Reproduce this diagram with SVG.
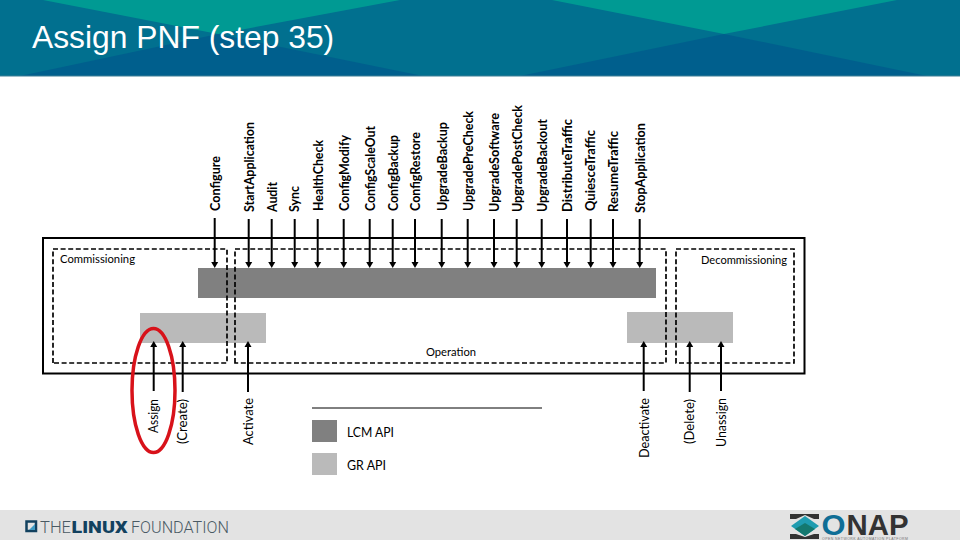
<svg xmlns="http://www.w3.org/2000/svg" width="960" height="540" viewBox="0 0 960 540">
<style>
text{font-family:Lato,"Open Sans","DejaVu Sans",sans-serif;fill:#000}
.v{font-size:13px;font-weight:700}
.n{font-weight:400}
.l{font-size:11.500px}
.t{font-family:"Liberation Sans",Arial,sans-serif;font-size:31.800px;fill:#fff}
.c{fill:none;stroke:#000;stroke-width:2}
.d{fill:none;stroke:#000;stroke-width:1.700;stroke-dasharray:5 2.600}
.lf{font-family:Roboto,"Liberation Sans",sans-serif;font-size:17px;font-weight:300;fill:#4a5a64}
.of{font-family:"Liberation Sans",Arial,sans-serif;font-size:29px;font-weight:700}
</style>
<defs>
<marker id="a" markerUnits="userSpaceOnUse" markerWidth="7" markerHeight="8" refX="0" refY="4" orient="auto"><path d="M0 0.500L6 4L0 7.500Z" fill="#000"/></marker>
</defs>
<rect width="960" height="540" fill="#fff"/>
<g id="header">
<rect width="960" height="76" fill="#01708f"/>
<path d="M43 0L218 34L400 0Z" fill="#009a93"/>
<path d="M552 0L724 34L897 0Z" fill="#009a93"/>
<path d="M20 76L218 34L423 76Z" fill="#005f8d"/>
<path d="M520 76L724 34L927 76Z" fill="#005f8d"/>
<rect y="75.500" width="960" height="1" fill="#3d7f95"/>
<text class="t" x="32" y="48">Assign PNF (step 35)</text>
</g>
<g id="footer">
<rect y="510" width="960" height="30" fill="#e3e3e3"/>
<g id="linux-foundation-logo">
<rect x="26.500" y="521.500" width="9.500" height="9.500" fill="none" stroke="#12415f" stroke-width="2.500"/>
<path d="M29 530h6v-6z" fill="#3d9ac4"/>
<text class="lf" x="40" y="532.500" textLength="31" lengthAdjust="spacingAndGlyphs">THE</text>
<text class="lf" x="71.500" y="532.500" textLength="56" lengthAdjust="spacingAndGlyphs" style="font-weight:900;fill:#12415f">LINUX</text>
<text class="lf" x="131" y="532.500" textLength="98" lengthAdjust="spacingAndGlyphs">FOUNDATION</text>
</g>
<g id="onap-logo">
<path d="M790 514h29v5l-5 0-9-4-9 4-6 0z" fill="#333"/>
<path d="M790 539h29v-5l-5 0-9 3-9-3-6 0z" fill="#333"/>
<path d="M791 526l14-10 14 10-14 10z" fill="#1f9cb0"/>
<path d="M795 529l10-6 10 6-10 7z" fill="#14786f"/>
<text class="of" x="821.500" y="535" style="fill:#0f6e96" textLength="24" lengthAdjust="spacingAndGlyphs">O</text>
<text class="of" x="846.500" y="535" style="fill:#333" textLength="62" lengthAdjust="spacingAndGlyphs">NAP</text>
<text x="822" y="539.500" style="font-family:'Liberation Sans',Arial,sans-serif;font-size:3.500px;fill:#777" textLength="86">OPEN NETWORK AUTOMATION PLATFORM</text>
</g>
</g>
<g id="bars">
<rect id="lcm-bar" x="198" y="268" width="458" height="30" fill="#808080"/>
<rect id="gr-bar-left" x="140" y="313" width="126" height="30" fill="#bababa"/>
<rect id="gr-bar-right" x="627" y="312" width="106" height="31" fill="#bababa"/>
</g>
<g id="frames">
<rect id="lifecycle" x="43" y="238" width="761.500" height="135.500" fill="none" stroke="#000" stroke-width="2"/>
<path id="commissioning" class="d" d="M53 363V249H227V363Z"/>
<path id="operation" class="d" d="M235 363V249H666V363Z"/>
<path id="decommissioning" class="d" d="M676 363V249H794V363Z"/>
</g>
<g id="connectors">
<path class="c" marker-end="url(#a)" d="M214.700 218V262"/>
<path class="c" marker-end="url(#a)" d="M248.700 219V262"/>
<path class="c" marker-end="url(#a)" d="M271.700 219V262"/>
<path class="c" marker-end="url(#a)" d="M294.700 219V262"/>
<path class="c" marker-end="url(#a)" d="M317.700 219V262"/>
<path class="c" marker-end="url(#a)" d="M343.700 219V262"/>
<path class="c" marker-end="url(#a)" d="M369.700 219V262"/>
<path class="c" marker-end="url(#a)" d="M392.700 219V262"/>
<path class="c" marker-end="url(#a)" d="M415 219V262"/>
<path class="c" marker-end="url(#a)" d="M441.700 219V262"/>
<path class="c" marker-end="url(#a)" d="M467.700 219V262"/>
<path class="c" marker-end="url(#a)" d="M494 219V262"/>
<path class="c" marker-end="url(#a)" d="M516.700 219V262"/>
<path class="c" marker-end="url(#a)" d="M541.700 219V262"/>
<path class="c" marker-end="url(#a)" d="M567 219V262"/>
<path class="c" marker-end="url(#a)" d="M590.700 219V262"/>
<path class="c" marker-end="url(#a)" d="M613 219V262"/>
<path class="c" marker-end="url(#a)" d="M639.700 219V262"/>
<path class="c" marker-end="url(#a)" d="M153.700 391V347"/>
<path class="c" marker-end="url(#a)" d="M182.700 392V347"/>
<path class="c" marker-end="url(#a)" d="M248 392V347"/>
<path class="c" marker-end="url(#a)" d="M643.700 391V347"/>
<path class="c" marker-end="url(#a)" d="M689.700 392V347"/>
<path class="c" marker-end="url(#a)" d="M721 391V347"/>
</g>
<g id="top-labels">
<text class="v" transform="translate(219.500,211) rotate(-90)" textLength="55" lengthAdjust="spacingAndGlyphs">Configure</text>
<text class="v" transform="translate(253.500,212) rotate(-90)" textLength="90" lengthAdjust="spacingAndGlyphs">StartApplication</text>
<text class="v" transform="translate(276.500,212) rotate(-90)" textLength="30" lengthAdjust="spacingAndGlyphs">Audit</text>
<text class="v" transform="translate(298.500,212) rotate(-90)" textLength="26" lengthAdjust="spacingAndGlyphs">Sync</text>
<text class="v" transform="translate(322.500,211) rotate(-90)" textLength="71" lengthAdjust="spacingAndGlyphs">HealthCheck</text>
<text class="v" transform="translate(348.500,211) rotate(-90)" textLength="76" lengthAdjust="spacingAndGlyphs">ConfigModify</text>
<text class="v" transform="translate(374.500,211) rotate(-90)" textLength="85" lengthAdjust="spacingAndGlyphs">ConfigScaleOut</text>
<text class="v" transform="translate(397.500,211) rotate(-90)" textLength="76" lengthAdjust="spacingAndGlyphs">ConfigBackup</text>
<text class="v" transform="translate(419.500,211) rotate(-90)" textLength="79" lengthAdjust="spacingAndGlyphs">ConfigRestore</text>
<text class="v" transform="translate(446.500,211) rotate(-90)" textLength="89" lengthAdjust="spacingAndGlyphs">UpgradeBackup</text>
<text class="v" transform="translate(472.500,211) rotate(-90)" textLength="100" lengthAdjust="spacingAndGlyphs">UpgradePreCheck</text>
<text class="v" transform="translate(498.500,212) rotate(-90)" textLength="99" lengthAdjust="spacingAndGlyphs">UpgradeSoftware</text>
<text class="v" transform="translate(521.500,212) rotate(-90)" textLength="107" lengthAdjust="spacingAndGlyphs">UpgradePostCheck</text>
<text class="v" transform="translate(546.500,212) rotate(-90)" textLength="93" lengthAdjust="spacingAndGlyphs">UpgradeBackout</text>
<text class="v" transform="translate(572,212) rotate(-90)" textLength="93" lengthAdjust="spacingAndGlyphs">DistributeTraffic</text>
<text class="v" transform="translate(595,211) rotate(-90)" textLength="81" lengthAdjust="spacingAndGlyphs">QuiesceTraffic</text>
<text class="v" transform="translate(618,212) rotate(-90)" textLength="81" lengthAdjust="spacingAndGlyphs">ResumeTraffic</text>
<text class="v" transform="translate(644.500,213) rotate(-90)" textLength="90" lengthAdjust="spacingAndGlyphs">StopApplication</text>
</g>
<g id="bottom-labels">
<text class="v n" transform="translate(158,433) rotate(-90)" textLength="34" lengthAdjust="spacingAndGlyphs">Assign</text>
<text class="v n" transform="translate(187,444) rotate(-90)" textLength="45" lengthAdjust="spacingAndGlyphs">(Create)</text>
<text class="v n" transform="translate(253,445) rotate(-90)" textLength="47" lengthAdjust="spacingAndGlyphs">Activate</text>
<text class="v n" transform="translate(649,458) rotate(-90)" textLength="60" lengthAdjust="spacingAndGlyphs">Deactivate</text>
<text class="v n" transform="translate(694,444) rotate(-90)" textLength="45" lengthAdjust="spacingAndGlyphs">(Delete)</text>
<text class="v n" transform="translate(726,447) rotate(-90)" textLength="49" lengthAdjust="spacingAndGlyphs">Unassign</text>
</g>
<g id="section-labels">
<text class="l" x="60" y="263" textLength="75" lengthAdjust="spacingAndGlyphs">Commissioning</text>
<text class="l" x="701" y="264" textLength="86" lengthAdjust="spacingAndGlyphs">Decommissioning</text>
<text class="l" x="426" y="356" textLength="50" lengthAdjust="spacingAndGlyphs">Operation</text>
</g>
<g id="legend">
<path d="M312 408H542" stroke="#000" stroke-width="1" fill="none"/>
<rect x="312" y="420" width="25" height="22" fill="#808080"/>
<rect x="312" y="453" width="25" height="22" fill="#bababa"/>
<text class="v n" x="347" y="437" textLength="47" lengthAdjust="spacingAndGlyphs" style="font-size:12.500px">LCM API</text>
<text class="v n" x="347" y="470" textLength="39" lengthAdjust="spacingAndGlyphs" style="font-size:12.500px">GR API</text>
</g>
<ellipse id="highlight" cx="153.500" cy="390.500" rx="21.500" ry="62" fill="none" stroke="#d8121a" stroke-width="3.500"/>
</svg>
